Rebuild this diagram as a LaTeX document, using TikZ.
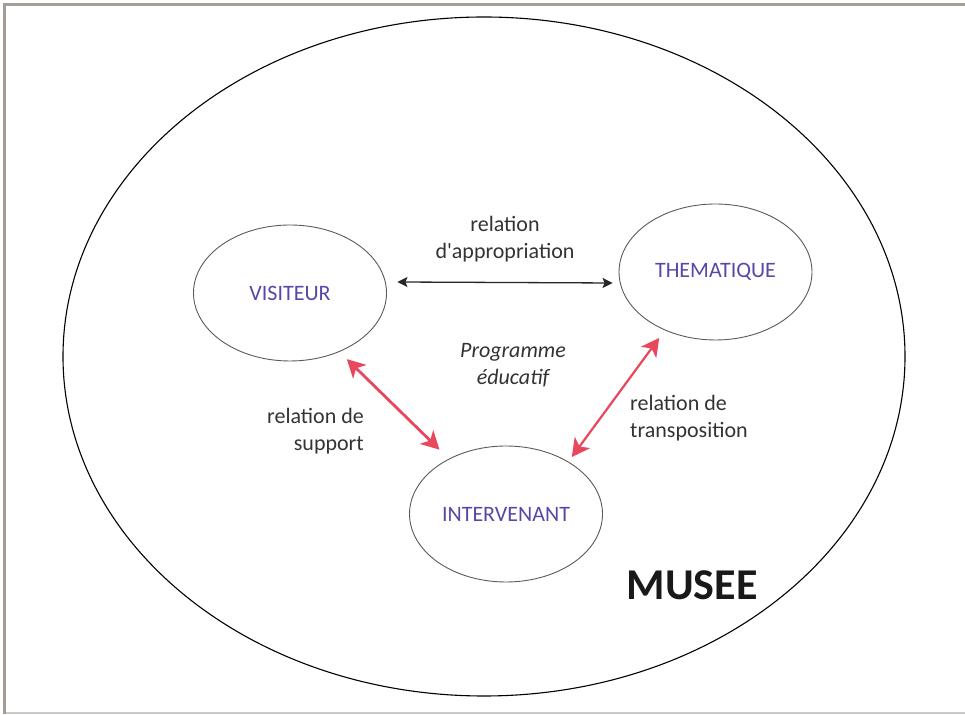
\documentclass[tikz,border=0pt]{standalone}
\usepackage{fontspec}
\setmainfont{Carlito}[Ligatures=TeXOff]
\usetikzlibrary{arrows.meta,shapes.geometric,calc}
\definecolor{framegray}{HTML}{A89D96}
\definecolor{framelight}{HTML}{CBC8C6}
\definecolor{ellgray}{HTML}{5A5A5A}
\definecolor{nodeblue}{HTML}{5548A6}
\definecolor{labelgray}{HTML}{333333}
\definecolor{arrowred}{HTML}{E8475C}
\begin{document}
\begin{tikzpicture}[x=1pt,y=1pt,
  ell/.style={ellipse, draw=ellgray, line width=0.9pt, minimum width=193pt, minimum height=136pt,
    inner sep=0pt, text=nodeblue, font=\fontsize{22}{26}\selectfont},
  lbl/.style={text=labelgray, inner sep=0pt, font=\fontsize{22}{27}\selectfont},
  blackarrow/.style={line width=1.3pt, draw=black!85, {Stealth[length=10pt,width=10pt,inset=2pt]}-{Stealth[length=10pt,width=10pt,inset=2pt]}},
  redarrow/.style={draw=arrowred, {Stealth[length=18pt,width=19pt,inset=5pt]}-{Stealth[length=18pt,width=19pt,inset=5pt]}}
]
\useasboundingbox (0,0) rectangle (965,714);
% frame
\draw[framelight, line width=1.5pt] (4,1) -- (965,1);
\draw[framegray, line width=2.6pt] (4.7,0) -- (4.7,709.5);
\draw[framegray, line width=2.6pt] (3.4,709.5) -- (965,709.5);
% museum
\node[ellipse, draw=black, line width=1.1pt, minimum width=842pt, minimum height=679pt, inner sep=0pt] (musee) at (484,357.5) {};
\node[font=\fontsize{44}{50}\selectfont\bfseries, text=black!90, inner sep=0pt] (museelbl) at (692,129) {MUSEE};
% entities
\node[ell] (vis) at (290,421) {VISITEUR};
\node[ell] (them) at (715.5,442) {\raisebox{-5pt}{THEMATIQUE}};
\node[ell] (int) at (506,200) {INTERVENANT};
% labels
\node[lbl, align=center] (lapp) at (505,475) {relation\\d'appropriation};
\node[lbl, align=center, font=\fontsize{22}{27}\selectfont\itshape] (lprog) at (513,349) {Programme\\éducatif};
\node[lbl, align=right, anchor=east] (lsup) at (364,283) {relation de\\support};
\node[lbl, align=left, anchor=west] (ltra) at (630,296) {relation de\\transposition};
% connectors
\draw[blackarrow] ([shift={(10.5,11)}]vis.east) -- ([shift={(-6,-11)}]them.west);
\draw[redarrow, line width=2.8pt, shorten <=10.4pt, shorten >=13pt] (vis.310.8) -- (int.136.7);
\draw[redarrow, line width=2.2pt, shorten <=9.4pt, shorten >=5.7pt] (them.229) -- (int.40.8);
\end{tikzpicture}
\end{document}
